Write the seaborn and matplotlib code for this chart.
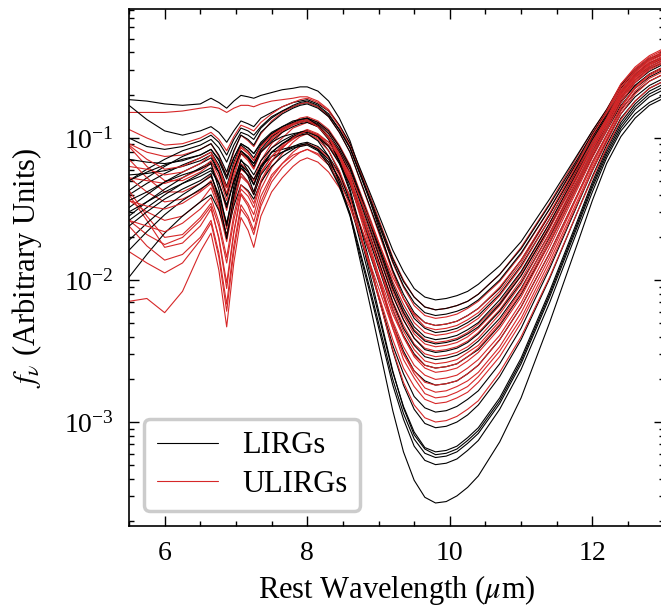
import numpy as np
import pandas as pd
import matplotlib
matplotlib.use("Agg")
import matplotlib.pyplot as plt
import seaborn as sns
from matplotlib.lines import Line2D
from matplotlib.ticker import MultipleLocator, LogLocator, NullFormatter

# rest wavelength grid (micron) the curves were read at
wavelength = [5.5, 5.75, 6.0, 6.25, 6.5,
              6.65, 6.76, 6.87, 6.97, 7.07, 7.17, 7.25, 7.35, 7.5,
              7.65, 7.8, 7.9, 8.0,
              8.15, 8.3, 8.45, 8.6,
              8.9, 9.2,
              9.35, 9.5, 9.65, 9.8,
              9.95, 10.1, 10.25, 10.4,
              10.7, 11.0, 11.4, 11.8,
              12.0, 12.2,
              12.4, 12.6, 12.8, 13.0]

# log10 f_nu, one list per galaxy
lirgs = [
    [-0.73,-0.74,-0.76,-0.77,-0.76, -0.72,-0.75,-0.79,-0.74,-0.70,-0.71,-0.72,-0.70,-0.68, -0.66,-0.65,-0.64,-0.64, -0.67,-0.74,-0.86,-1.02, -1.47,-1.94, -2.13,-2.27,-2.34,-2.37, -2.36,-2.34,-2.30,-2.25, -2.10,-1.90,-1.57,-1.21, -1.03,-0.86, -0.69,-0.57,-0.50,-0.45],
    [-0.77,-0.87,-0.95,-0.98,-0.95, -0.92,-0.96,-1.03,-0.95,-0.88,-0.90,-0.92,-0.86,-0.82, -0.78,-0.75,-0.74,-0.73, -0.76,-0.81,-0.91,-1.04, -1.41,-1.79, -1.94,-2.06,-2.12,-2.14, -2.13,-2.11,-2.08,-2.03, -1.90,-1.73,-1.43,-1.11, -0.95,-0.80, -0.63,-0.52,-0.44,-0.40],
    [-1.00,-1.06,-1.08,-1.06,-1.02, -0.98,-1.03,-1.12,-1.01,-0.93,-0.95,-0.98,-0.92,-0.85, -0.81,-0.78,-0.76,-0.75, -0.78,-0.84,-0.94,-1.07, -1.45,-1.85, -2.01,-2.12,-2.19,-2.21, -2.20,-2.18,-2.15,-2.10, -1.96,-1.78,-1.47,-1.14, -0.97,-0.82, -0.65,-0.53,-0.45,-0.41],
    [-1.30,-1.22,-1.15,-1.09,-1.05, -1.01,-1.07,-1.17,-1.05,-0.96,-0.98,-1.01,-0.93,-0.86, -0.81,-0.77,-0.75,-0.74, -0.77,-0.83,-0.94,-1.07, -1.47,-1.87, -2.04,-2.16,-2.23,-2.25, -2.24,-2.22,-2.19,-2.14, -2.00,-1.81,-1.50,-1.16, -0.99,-0.84, -0.67,-0.55,-0.47,-0.43],
    [-1.37,-1.28,-1.20,-1.13,-1.08, -1.04,-1.12,-1.24,-1.09,-0.98,-1.01,-1.05,-0.96,-0.89, -0.83,-0.79,-0.77,-0.76, -0.79,-0.85,-0.96,-1.10, -1.51,-1.93, -2.10,-2.23,-2.30,-2.32, -2.31,-2.29,-2.25,-2.20, -2.06,-1.86,-1.54,-1.19, -1.01,-0.85, -0.68,-0.56,-0.48,-0.44],
    [-1.40,-1.32,-1.25,-1.19,-1.14, -1.10,-1.19,-1.34,-1.17,-1.05,-1.09,-1.14,-1.05,-0.97, -0.92,-0.89,-0.87,-0.86, -0.89,-0.95,-1.06,-1.20, -1.61,-2.03, -2.20,-2.33,-2.40,-2.42, -2.41,-2.39,-2.35,-2.30, -2.14,-1.94,-1.60,-1.23, -1.05,-0.88, -0.71,-0.59,-0.51,-0.47],
    [-1.49,-1.40,-1.31,-1.24,-1.18, -1.14,-1.24,-1.40,-1.22,-1.09,-1.13,-1.18,-1.08,-0.99, -0.94,-0.90,-0.88,-0.87, -0.90,-0.97,-1.08,-1.22, -1.63,-2.06, -2.23,-2.36,-2.43,-2.45, -2.44,-2.42,-2.38,-2.33, -2.17,-1.97,-1.63,-1.26, -1.07,-0.90, -0.72,-0.61,-0.53,-0.48],
    [-1.55,-1.45,-1.36,-1.28,-1.21, -1.17,-1.24,-1.35,-1.22,-1.11,-1.14,-1.18,-1.09,-1.02, -0.96,-0.92,-0.90,-0.89, -0.92,-0.99,-1.10,-1.25, -1.67,-2.11, -2.28,-2.41,-2.49,-2.51, -2.50,-2.48,-2.44,-2.38, -2.22,-2.02,-1.67,-1.29, -1.09,-0.92, -0.74,-0.63,-0.55,-0.50],
    [-1.58,-1.49,-1.40,-1.32,-1.25, -1.21,-1.32,-1.49,-1.30,-1.16,-1.20,-1.26,-1.16,-1.07, -1.02,-0.98,-0.96,-0.95, -0.98,-1.05,-1.16,-1.30, -1.72,-2.16, -2.34,-2.46,-2.54,-2.56, -2.55,-2.53,-2.49,-2.43, -2.27,-2.06,-1.70,-1.31, -1.11,-0.93, -0.75,-0.63,-0.55,-0.50],
    [-1.72,-1.60,-1.49,-1.40,-1.32, -1.27,-1.40,-1.60,-1.37,-1.21,-1.26,-1.33,-1.20,-1.10, -1.04,-0.99,-0.97,-0.96, -0.99,-1.06,-1.18,-1.33, -1.76,-2.21, -2.39,-2.52,-2.60,-2.62, -2.61,-2.59,-2.54,-2.49, -2.32,-2.10,-1.74,-1.33, -1.13,-0.95, -0.77,-0.65,-0.57,-0.52],
    [-1.79,-1.66,-1.54,-1.44,-1.36, -1.31,-1.46,-1.69,-1.44,-1.25,-1.31,-1.40,-1.26,-1.16, -1.10,-1.06,-1.04,-1.03, -1.06,-1.13,-1.25,-1.41, -1.85,-2.31, -2.50,-2.64,-2.71,-2.74, -2.73,-2.71,-2.66,-2.60, -2.42,-2.19,-1.81,-1.39, -1.17,-0.98, -0.80,-0.68,-0.60,-0.55],
    [-1.98,-1.82,-1.67,-1.55,-1.45, -1.40,-1.51,-1.68,-1.48,-1.33,-1.37,-1.43,-1.31,-1.20, -1.13,-1.08,-1.05,-1.04, -1.08,-1.15,-1.29,-1.46, -1.95,-2.46, -2.66,-2.82,-2.90,-2.93, -2.92,-2.89,-2.84,-2.78, -2.59,-2.34,-1.92,-1.46, -1.23,-1.02, -0.83,-0.71,-0.63,-0.58],
    [-1.15,-1.17,-1.18,-1.16,-1.12, -1.08,-1.15,-1.27,-1.14,-1.04,-1.07,-1.11,-1.04,-0.97, -0.93,-0.90,-0.89,-0.88, -0.92,-1.01,-1.16,-1.36, -1.92,-2.50, -2.74,-2.91,-3.01,-3.04, -3.03,-3.00,-2.95,-2.88, -2.68,-2.42,-1.99,-1.51, -1.27,-1.05, -0.86,-0.74,-0.65,-0.60],
    [-1.26,-1.25,-1.23,-1.20,-1.16, -1.12,-1.24,-1.41,-1.22,-1.09,-1.14,-1.20,-1.10,-1.03, -0.99,-0.97,-0.96,-0.95, -0.99,-1.09,-1.24,-1.45, -2.04,-2.65, -2.89,-3.07,-3.18,-3.21, -3.20,-3.17,-3.11,-3.04, -2.83,-2.55,-2.08,-1.57, -1.31,-1.08, -0.89,-0.76,-0.67,-0.62],
    [-1.30,-1.24,-1.19,-1.15,-1.12, -1.08,-1.16,-1.29,-1.14,-1.04,-1.07,-1.11,-1.03,-0.96, -0.92,-0.88,-0.87,-0.86, -0.91,-1.00,-1.17,-1.38, -2.00,-2.64, -2.90,-3.09,-3.19,-3.23, -3.22,-3.19,-3.13,-3.06, -2.85,-2.57,-2.10,-1.59, -1.33,-1.10, -0.91,-0.78,-0.69,-0.64],
    [-1.44,-1.38,-1.31,-1.26,-1.22, -1.18,-1.36,-1.62,-1.34,-1.15,-1.23,-1.33,-1.20,-1.10, -1.08,-1.06,-1.05,-1.04, -1.08,-1.17,-1.33,-1.53, -2.10,-2.70, -2.94,-3.12,-3.22,-3.25, -3.24,-3.21,-3.15,-3.08, -2.87,-2.59,-2.12,-1.61, -1.35,-1.12, -0.93,-0.80,-0.71,-0.66],
    [-1.52,-1.45,-1.38,-1.32,-1.27, -1.23,-1.32,-1.47,-1.31,-1.19,-1.24,-1.29,-1.20,-1.13, -1.10,-1.07,-1.06,-1.05, -1.09,-1.19,-1.34,-1.55, -2.13,-2.74, -2.98,-3.17,-3.27,-3.30, -3.29,-3.26,-3.20,-3.13, -2.91,-2.63,-2.16,-1.64, -1.38,-1.14, -0.95,-0.83,-0.75,-0.70],
    [-1.62,-1.52,-1.43,-1.36,-1.30, -1.25,-1.43,-1.71,-1.41,-1.19,-1.27,-1.38,-1.22,-1.10, -1.04,-1.00,-0.98,-0.97, -1.02,-1.13,-1.31,-1.54, -2.22,-2.92, -3.21,-3.41,-3.53,-3.57, -3.56,-3.52,-3.46,-3.38, -3.14,-2.83,-2.30,-1.73, -1.44,-1.18, -0.99,-0.86,-0.77,-0.72],
]

ulirgs = [
    [-0.82,-0.82,-0.82,-0.81,-0.79, -0.78,-0.79,-0.82,-0.79,-0.77,-0.77,-0.78,-0.76,-0.74, -0.73,-0.72,-0.71,-0.71, -0.74,-0.80,-0.91,-1.04, -1.43,-1.84, -2.00,-2.12,-2.19,-2.21, -2.20,-2.18,-2.15,-2.10, -1.96,-1.77,-1.46,-1.12, -0.95,-0.80, -0.62,-0.51,-0.43,-0.38],
    [-0.94,-1.00,-1.05,-1.04,-1.00, -0.96,-1.01,-1.09,-0.99,-0.91,-0.93,-0.95,-0.89,-0.83, -0.78,-0.75,-0.73,-0.72, -0.75,-0.81,-0.92,-1.06, -1.46,-1.88, -2.05,-2.18,-2.25,-2.27, -2.26,-2.24,-2.20,-2.15, -2.01,-1.82,-1.50,-1.15, -0.97,-0.81, -0.62,-0.50,-0.42,-0.37],
    [-1.04,-1.10,-1.13,-1.12,-1.08, -1.04,-1.13,-1.27,-1.10,-0.98,-1.02,-1.06,-0.97,-0.88, -0.82,-0.78,-0.76,-0.75, -0.78,-0.85,-0.96,-1.10, -1.52,-1.95, -2.13,-2.25,-2.33,-2.35, -2.34,-2.32,-2.28,-2.23, -2.08,-1.88,-1.54,-1.18, -1.00,-0.83, -0.64,-0.52,-0.44,-0.39],
    [-1.06,-1.20,-1.30,-1.30,-1.24, -1.18,-1.31,-1.51,-1.28,-1.11,-1.16,-1.22,-1.10,-1.00, -0.94,-0.89,-0.86,-0.85, -0.88,-0.94,-1.05,-1.19, -1.59,-2.01, -2.17,-2.30,-2.37,-2.39, -2.38,-2.36,-2.32,-2.27, -2.11,-1.91,-1.57,-1.20, -1.02,-0.85, -0.66,-0.54,-0.45,-0.40],
    [-1.15,-1.28,-1.38,-1.38,-1.32, -1.26,-1.41,-1.64,-1.37,-1.18,-1.23,-1.30,-1.16,-1.04, -0.96,-0.90,-0.88,-0.86, -0.89,-0.96,-1.06,-1.21, -1.62,-2.05, -2.22,-2.35,-2.42,-2.44, -2.43,-2.41,-2.37,-2.31, -2.16,-1.95,-1.60,-1.22, -1.03,-0.86, -0.67,-0.55,-0.46,-0.41],
    [-1.28,-1.38,-1.45,-1.43,-1.37, -1.30,-1.43,-1.62,-1.39,-1.22,-1.26,-1.32,-1.19,-1.07, -1.00,-0.93,-0.91,-0.89, -0.92,-0.99,-1.09,-1.24, -1.65,-2.08, -2.25,-2.38,-2.45,-2.47, -2.46,-2.44,-2.40,-2.34, -2.18,-1.97,-1.62,-1.24, -1.05,-0.87, -0.68,-0.56,-0.47,-0.42],
    [-1.37,-1.55,-1.70,-1.68,-1.56, -1.46,-1.62,-1.88,-1.58,-1.36,-1.41,-1.49,-1.32,-1.17, -1.07,-1.00,-0.96,-0.94, -0.97,-1.03,-1.14,-1.28, -1.69,-2.11, -2.28,-2.41,-2.48,-2.50, -2.49,-2.47,-2.43,-2.37, -2.21,-2.00,-1.64,-1.25, -1.06,-0.88, -0.69,-0.57,-0.48,-0.43],
    [-1.40,-1.58,-1.77,-1.74,-1.62, -1.50,-1.70,-2.02,-1.66,-1.39,-1.46,-1.54,-1.36,-1.21, -1.11,-1.03,-0.99,-0.97, -1.00,-1.06,-1.17,-1.32, -1.72,-2.15, -2.32,-2.45,-2.52,-2.54, -2.53,-2.51,-2.47,-2.41, -2.24,-2.03,-1.67,-1.27, -1.07,-0.89, -0.70,-0.57,-0.48,-0.43],
    [-1.44,-1.52,-1.58,-1.55,-1.45, -1.35,-1.50,-1.73,-1.46,-1.27,-1.32,-1.40,-1.25,-1.13, -1.05,-0.99,-0.97,-0.95, -0.98,-1.05,-1.16,-1.31, -1.74,-2.18, -2.36,-2.49,-2.57,-2.59, -2.58,-2.56,-2.51,-2.46, -2.29,-2.07,-1.69,-1.29, -1.09,-0.90, -0.71,-0.58,-0.49,-0.44],
    [-1.58,-1.68,-1.75,-1.70,-1.58, -1.48,-1.71,-2.06,-1.67,-1.40,-1.48,-1.59,-1.41,-1.26, -1.18,-1.12,-1.10,-1.08, -1.11,-1.17,-1.28,-1.42, -1.82,-2.24, -2.40,-2.53,-2.60,-2.62, -2.61,-2.59,-2.54,-2.48, -2.31,-2.09,-1.72,-1.31, -1.11,-0.92, -0.72,-0.59,-0.50,-0.45],
    [-1.28,-1.30,-1.32,-1.28,-1.22, -1.16,-1.27,-1.44,-1.25,-1.10,-1.15,-1.21,-1.10,-1.01, -0.95,-0.91,-0.89,-0.88, -0.91,-0.99,-1.11,-1.27, -1.73,-2.21, -2.40,-2.54,-2.62,-2.65, -2.64,-2.62,-2.57,-2.51, -2.34,-2.12,-1.74,-1.33, -1.12,-0.93, -0.73,-0.60,-0.51,-0.46],
    [-1.62,-1.76,-1.86,-1.82,-1.70, -1.58,-1.81,-2.17,-1.76,-1.47,-1.55,-1.65,-1.45,-1.28, -1.18,-1.10,-1.06,-1.04, -1.07,-1.14,-1.26,-1.41, -1.84,-2.29, -2.47,-2.60,-2.67,-2.70, -2.69,-2.67,-2.62,-2.56, -2.39,-2.16,-1.77,-1.35, -1.14,-0.95, -0.75,-0.61,-0.52,-0.47],
    [-2.15,-2.13,-2.23,-2.08,-1.80, -1.67,-1.93,-2.33,-1.88,-1.56,-1.65,-1.77,-1.55,-1.38, -1.28,-1.20,-1.16,-1.14, -1.17,-1.24,-1.35,-1.49, -1.91,-2.34, -2.52,-2.64,-2.72,-2.74, -2.73,-2.71,-2.66,-2.60, -2.42,-2.19,-1.81,-1.39, -1.17,-0.98, -0.78,-0.64,-0.55,-0.50],
    [-1.20,-1.22,-1.26,-1.24,-1.18, -1.12,-1.21,-1.35,-1.19,-1.07,-1.11,-1.16,-1.06,-0.98, -0.93,-0.90,-0.88,-0.87, -0.91,-0.99,-1.12,-1.29, -1.79,-2.31, -2.52,-2.66,-2.76,-2.79, -2.78,-2.75,-2.71,-2.65, -2.47,-2.23,-1.84,-1.40, -1.19,-0.99, -0.79,-0.65,-0.56,-0.51],
    [-1.05,-1.15,-1.22,-1.20,-1.14, -1.10,-1.21,-1.39,-1.19,-1.06,-1.10,-1.16,-1.06,-0.98, -0.94,-0.90,-0.89,-0.88, -0.92,-1.00,-1.13,-1.31, -1.82,-2.34, -2.56,-2.69,-2.80,-2.83, -2.82,-2.79,-2.75,-2.68, -2.50,-2.27,-1.87,-1.43, -1.21,-1.01, -0.81,-0.67,-0.58,-0.53],
    [-1.80,-1.88,-1.95,-1.88,-1.72, -1.60,-1.84,-2.22,-1.80,-1.50,-1.57,-1.68,-1.48,-1.31, -1.21,-1.14,-1.10,-1.08, -1.12,-1.19,-1.31,-1.47, -1.94,-2.42, -2.62,-2.75,-2.84,-2.87, -2.86,-2.83,-2.79,-2.72, -2.54,-2.30,-1.90,-1.45, -1.23,-1.03, -0.83,-0.69,-0.60,-0.55],
    [-1.44,-1.48,-1.50,-1.46,-1.38, -1.32,-1.47,-1.70,-1.44,-1.25,-1.31,-1.38,-1.24,-1.13, -1.06,-1.01,-0.98,-0.97, -1.01,-1.09,-1.23,-1.42, -1.94,-2.49, -2.72,-2.88,-2.97,-3.00, -2.99,-2.96,-2.91,-2.85, -2.65,-2.40,-1.98,-1.51, -1.28,-1.07, -0.87,-0.74,-0.65,-0.60],
    [-1.58,-1.62,-1.66,-1.60,-1.50, -1.42,-1.59,-1.84,-1.54,-1.33,-1.38,-1.46,-1.30,-1.16, -1.07,-1.00,-0.97,-0.95, -0.98,-1.03,-1.13,-1.25, -1.61,-1.98, -2.13,-2.24,-2.30,-2.32, -2.31,-2.29,-2.25,-2.20, -2.05,-1.86,-1.53,-1.17, -0.98,-0.82, -0.64,-0.53,-0.45,-0.40],
]

LIRG_COLOR = "black"
ULIRG_COLOR = "#d62728"

# long-form table, LIRG and ULIRG curves interleaved so neither colour sits on top
frames = []
for i in range(max(len(lirgs), len(ulirgs))):
    for tag, group in (("L", lirgs), ("U", ulirgs)):
        if i < len(group):
            frames.append(pd.DataFrame({
                "wavelength": wavelength,
                "flux": 10 ** np.array(group[i]),
                "name": f"{tag}{i}",
            }))
df = pd.concat(frames, ignore_index=True)
order = list(df["name"].unique())
palette = {n: (LIRG_COLOR if n.startswith("L") else ULIRG_COLOR) for n in order}

sns.set_theme(style="ticks", rc={"axes.edgecolor": "black", "xtick.color": "black",
                                 "ytick.color": "black", "text.color": "black",
                                 "axes.labelcolor": "black"})
plt.rcParams["font.family"] = ["Liberation Serif", "DejaVu Serif"]
plt.rcParams["mathtext.fontset"] = "stix"

fig = plt.figure(figsize=(6.61, 6.15), dpi=100)
ax = fig.add_axes([0.1952, 0.1447, 0.8088, 0.8407])

sns.lineplot(data=df, x="wavelength", y="flux", hue="name", hue_order=order,
             palette=palette, estimator=None, sort=False, lw=0.8, legend=False, ax=ax)

ax.set_yscale("log")
ax.set_xlim(5.5, 13)
ax.set_ylim(1.853e-4, 0.81)
ax.xaxis.set_major_locator(MultipleLocator(2))
ax.xaxis.set_minor_locator(MultipleLocator(0.5))
ax.yaxis.set_major_locator(LogLocator(base=10, numticks=10))
ax.yaxis.set_minor_locator(LogLocator(base=10, subs=np.arange(2, 10), numticks=20))
ax.yaxis.set_minor_formatter(NullFormatter())

ax.tick_params(which="both", direction="in", top=True, right=True, width=1.0)
ax.tick_params(which="major", length=7.5, labelsize=20)
ax.tick_params(which="minor", length=3.8)
ax.tick_params(axis="x", which="major", pad=11)
ax.tick_params(axis="y", which="major", pad=11)
for s in ax.spines.values():
    s.set_linewidth(1.2)

ax.set_xlabel(r"Rest Wavelength ($\mu$m)", fontsize=22, labelpad=5)
ax.set_ylabel(r"$f_\nu$ (Arbitrary Units)", fontsize=22, labelpad=14)

handles = [Line2D([], [], color=LIRG_COLOR, lw=0.8, label="LIRGs"),
           Line2D([], [], color=ULIRG_COLOR, lw=0.8, label="ULIRGs")]
leg = ax.legend(handles=handles, loc="lower left", fontsize=22, frameon=True, fancybox=True,
                edgecolor="#cccccc", framealpha=1, handlelength=2.0, handletextpad=0.8,
                labelspacing=0.3, borderpad=0.42, borderaxespad=0.48)
leg.get_frame().set_linewidth(2.5)

fig.savefig("out.png", dpi=100)
